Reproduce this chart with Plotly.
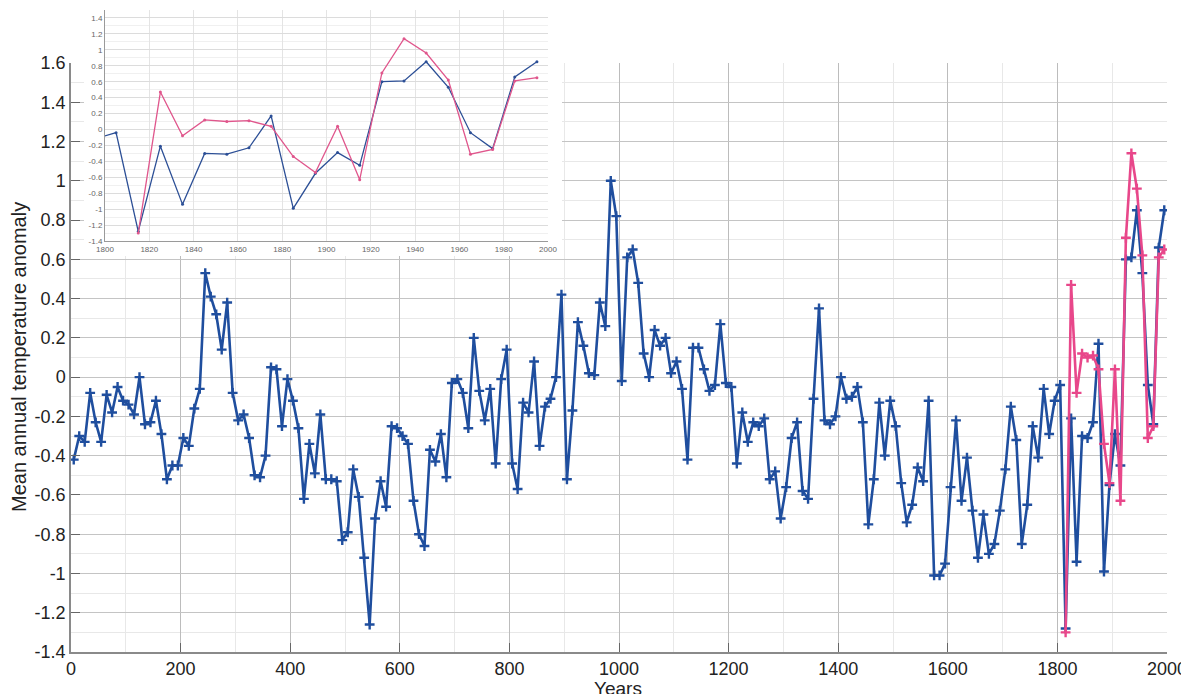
import plotly.graph_objects as go

# ---------------- data ----------------
years = list(range(5, 2000, 10))
blue = [
    -0.42, -0.30, -0.33, -0.08, -0.23, -0.33, -0.09, -0.18, -0.05, -0.12,
    -0.14, -0.19, 0.00, -0.24, -0.23, -0.12, -0.29, -0.52, -0.45, -0.45,
    -0.31, -0.35, -0.16, -0.06, 0.53, 0.41, 0.32, 0.14, 0.38, -0.08,
    -0.22, -0.19, -0.31, -0.50, -0.51, -0.40, 0.05, 0.04, -0.25, -0.01,
    -0.12, -0.26, -0.62, -0.34, -0.49, -0.19, -0.52, -0.52, -0.53, -0.83,
    -0.79, -0.47, -0.61, -0.92, -1.26, -0.72, -0.53, -0.66, -0.25, -0.26,
    -0.30, -0.34, -0.63, -0.80, -0.86, -0.37, -0.43, -0.29, -0.51, -0.03,
    -0.01, -0.08, -0.26, 0.20, -0.07, -0.22, -0.06, -0.44, -0.01, 0.14,
    -0.44, -0.57, -0.13, -0.18, 0.08, -0.35, -0.15, -0.11, 0.00, 0.42,
    -0.52, -0.17, 0.28, 0.16, 0.02, 0.01, 0.38, 0.26, 1.00, 0.82,
    -0.02, 0.61, 0.65, 0.48, 0.12, 0.00, 0.24, 0.16, 0.20, 0.02,
    0.08, -0.06, -0.42, 0.15, 0.15, 0.04, -0.07, -0.04, 0.27, -0.03,
    -0.05, -0.44, -0.18, -0.33, -0.23, -0.25, -0.21, -0.52, -0.48, -0.72,
    -0.56, -0.31, -0.23, -0.58, -0.62, -0.11, 0.35, -0.22, -0.24, -0.20,
    0.00, -0.11, -0.10, -0.05, -0.23, -0.75, -0.52, -0.13, -0.40, -0.12,
    -0.25, -0.54, -0.74, -0.65, -0.46, -0.53, -0.12, -1.01, -1.01, -0.95,
    -0.56, -0.22, -0.63, -0.41, -0.68, -0.92, -0.70, -0.90, -0.85, -0.68,
    -0.47, -0.15, -0.32, -0.85, -0.65, -0.25, -0.41, -0.06, -0.29, -0.12,
    -0.04, -1.28, -0.21, -0.94, -0.30, -0.31, -0.23, 0.17, -0.99, -0.55,
    -0.29, -0.45, 0.60, 0.61, 0.85, 0.53, -0.04, -0.24, 0.66, 0.85,
]
pink_years = list(range(1815, 2000, 10))
pink = [
    -1.30, 0.47, -0.08, 0.12, 0.10, 0.11, 0.04, -0.34, -0.54, 0.04,
    -0.63, 0.71, 1.14, 0.96, 0.62, -0.31, -0.25, 0.61, 0.65,
]

main_x_ticks = [0, 200, 400, 600, 800, 1000, 1200, 1400, 1600, 1800, 2000]
main_y_ticks = [-1.4, -1.2, -1.0, -0.8, -0.6, -0.4, -0.2, 0.0, 0.2, 0.4,
                0.6, 0.8, 1.0, 1.2, 1.4, 1.6]
main_y_labels = ["-1.4", "-1.2", "-1", "-0.8", "-0.6", "-0.4", "-0.2", "0",
                 "0.2", "0.4", "0.6", "0.8", "1", "1.2", "1.4", "1.6"]
inset_x_ticks = [1800, 1820, 1840, 1860, 1880, 1900, 1920, 1940, 1960, 1980, 2000]
inset_y_ticks = [-1.4, -1.2, -1.0, -0.8, -0.6, -0.4, -0.2, 0.0, 0.2, 0.4,
                 0.6, 0.8, 1.0, 1.2, 1.4]
inset_y_labels = ["-1.4", "-1.2", "-1", "-0.8", "-0.6", "-0.4", "-0.2", "0",
                  "0.2", "0.4", "0.6", "0.8", "1", "1.2", "1.4"]

# ---------------- styling ----------------
W, H = 1189, 694
OFF = 8  # page body margin offset
BLUE = "#1f4e9e"
PINK = "#e8478a"
FONT = "Liberation Sans, Arial, sans-serif"


def fx(p):
    return (p - OFF) / W


def fy(p):
    return 1 - (p - OFF) / H


fig = go.Figure()

# main traces
fig.add_trace(go.Scatter(
    x=years, y=blue, mode="lines+markers", xaxis="x", yaxis="y",
    line=dict(color=BLUE, width=2.6),
    marker=dict(symbol="cross-thin", size=7, line=dict(color=BLUE, width=2.4)),
    showlegend=False, hoverinfo="skip"))
fig.add_trace(go.Scatter(
    x=pink_years, y=pink, mode="lines+markers", xaxis="x", yaxis="y",
    line=dict(color=PINK, width=2.6),
    marker=dict(symbol="cross-thin", size=7, line=dict(color=PINK, width=2.4)),
    showlegend=False, hoverinfo="skip"))

# white cover subplot (keeps main grid out of the inset area)
fig.add_trace(go.Scatter(
    x=[0], y=[0], mode="markers", xaxis="x2", yaxis="y2",
    marker=dict(opacity=0), showlegend=False, hoverinfo="skip"))

# inset traces
fig.add_trace(go.Scatter(
    x=years, y=blue, mode="lines+markers", xaxis="x3", yaxis="y3",
    line=dict(color="#2c4f96", width=1.3),
    marker=dict(symbol="circle", size=3, color="#2c4f96"),
    cliponaxis=True, showlegend=False, hoverinfo="skip"))
fig.add_trace(go.Scatter(
    x=pink_years, y=pink, mode="lines+markers", xaxis="x3", yaxis="y3",
    line=dict(color="#e0568c", width=1.3),
    marker=dict(symbol="circle", size=3, color="#e0568c"),
    cliponaxis=True, showlegend=False, hoverinfo="skip"))

fig.update_layout(
    width=W, height=H,
    margin=dict(l=0, r=0, t=0, b=0, pad=0, autoexpand=False),
    paper_bgcolor="white", plot_bgcolor="white",
    font=dict(family=FONT, color="#222222"),
    xaxis=dict(
        domain=[fx(71), fx(1167)], range=[0, 2000], automargin=False,
        tickvals=main_x_ticks, ticks="inside", ticklen=9, tickcolor="#666666",
        showline=True, linecolor="#8a8a8a", linewidth=1.5, mirror=False,
        showgrid=True, gridcolor="#bcbcbc", gridwidth=1,
        minor=dict(dtick=100, showgrid=True, gridcolor="#e8e8e8"),
        tickfont=dict(size=18, color="#222222", family=FONT),
        zeroline=False, anchor="y", fixedrange=True),
    yaxis=dict(
        domain=[fy(652), fy(63)], range=[-1.4, 1.6], automargin=False,
        tickvals=main_y_ticks, ticktext=main_y_labels,
        ticks="inside", ticklen=9, tickcolor="#666666",
        showline=True, linecolor="#8a8a8a", linewidth=1.5, mirror=False,
        showgrid=True, gridcolor="#c4c4c4", gridwidth=1,
        minor=dict(dtick=0.1, showgrid=True, gridcolor="#e8e8e8"),
        tickfont=dict(size=18, color="#222222", family=FONT),
        zeroline=False, anchor="x", fixedrange=True),
    xaxis2=dict(domain=[fx(84), fx(562)], range=[0, 1], visible=False,
                automargin=False, anchor="y2", fixedrange=True),
    yaxis2=dict(domain=[fy(256), 1.0], range=[0, 1], visible=False,
                automargin=False, anchor="x2", fixedrange=True),
    xaxis3=dict(
        domain=[fx(105), fx(548)], range=[1800, 2000], automargin=False,
        tickvals=inset_x_ticks, ticks="", showline=True, linecolor="#9a9a9a",
        linewidth=1, mirror=False,
        showgrid=True, gridcolor="#e4e4e4", gridwidth=1,
        tickfont=dict(size=8, color="#666666", family=FONT),
        zeroline=False, anchor="y3", fixedrange=True),
    yaxis3=dict(
        domain=[fy(241), fy(10)], range=[-1.4, 1.5], automargin=False,
        tickvals=inset_y_ticks, ticktext=inset_y_labels,
        ticks="", showline=True, linecolor="#9a9a9a", linewidth=1,
        showgrid=True, gridcolor="#dcdcdc", gridwidth=1,
        minor=dict(dtick=0.1, showgrid=True, gridcolor="#f0f0f0"),
        tickfont=dict(size=8, color="#666666", family=FONT),
        zeroline=False, anchor="x3", fixedrange=True),
    annotations=[
        dict(text="Years", xref="paper", yref="paper", x=fx(618), y=fy(688),
             showarrow=False, xanchor="center", yanchor="middle",
             font=dict(size=19, color="#222222", family=FONT)),
        dict(text="Mean annual temperature anomaly", xref="paper", yref="paper",
             x=fx(19), y=fy(357), textangle=-90, showarrow=False,
             xanchor="center", yanchor="middle",
             font=dict(size=20, color="#222222", family=FONT)),
    ],
)

fig.write_html("out.html")
